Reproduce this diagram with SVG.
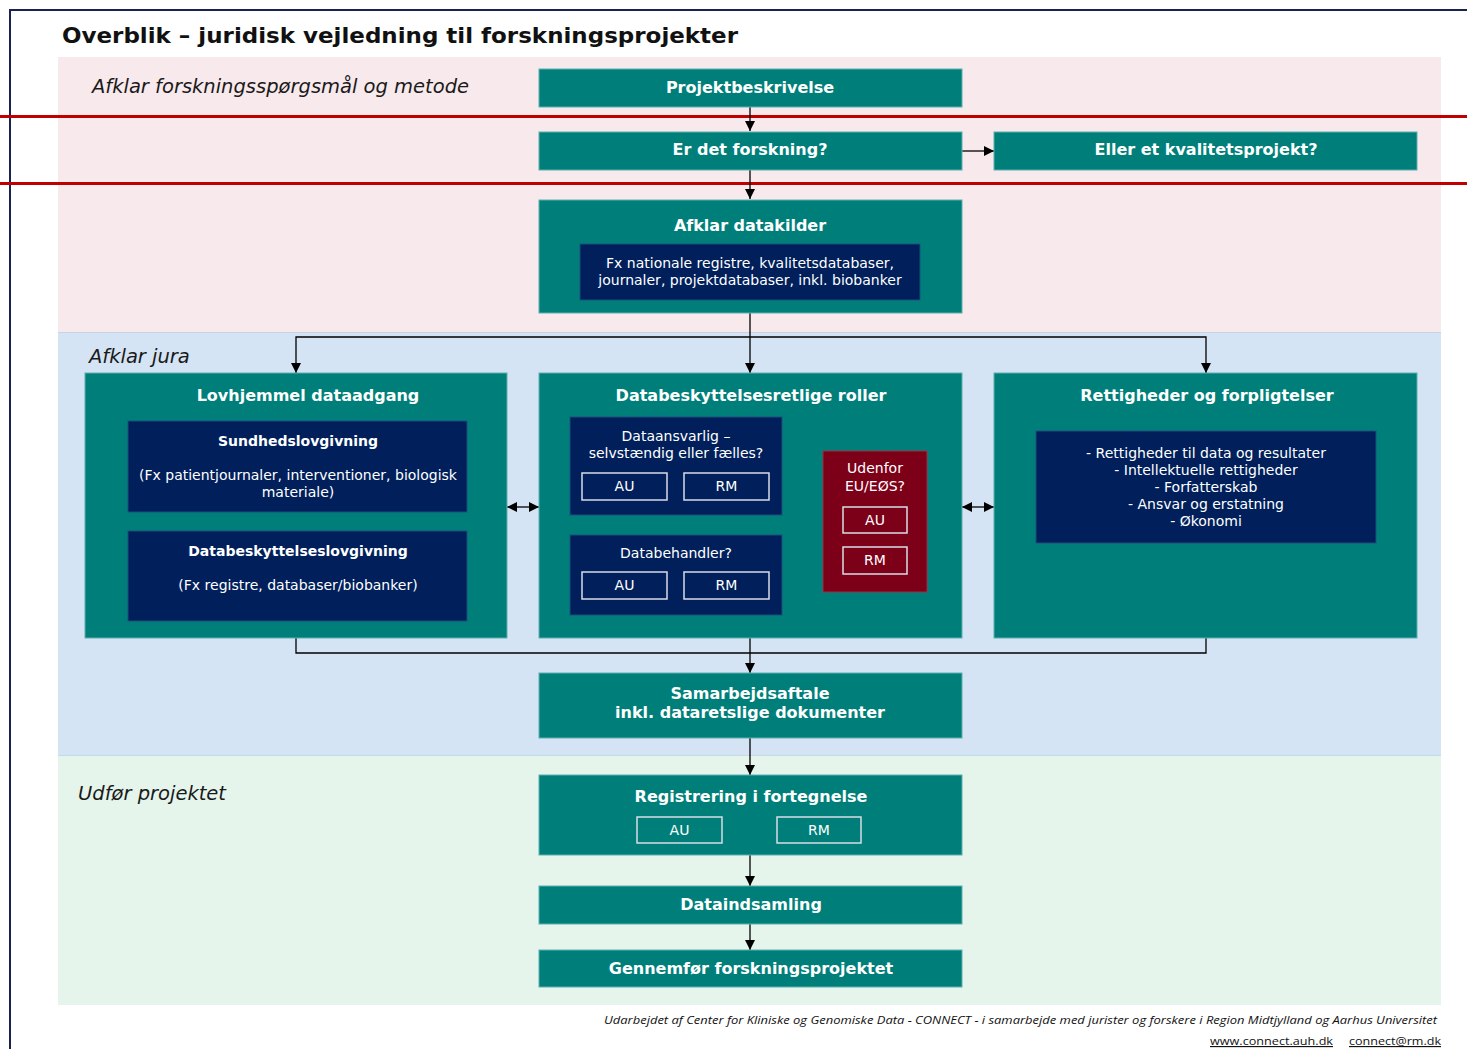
<svg xmlns="http://www.w3.org/2000/svg" width="1467" height="1049" viewBox="0 0 1467 1049">
<defs>
<marker id="arr" viewBox="0 0 10 10" refX="10" refY="5" markerWidth="10" markerHeight="10" markerUnits="userSpaceOnUse" orient="auto-start-reverse">
<path d="M0,0 L10,5 L0,10 z" fill="#000"/>
</marker>
<style>
.teal{fill:#007f7a;stroke:#5fb0ad;stroke-width:1}
.navy{fill:#001f5b;stroke:#1d4f7a;stroke-width:1}
.red{fill:#7d0019;stroke:#9a3040;stroke-width:1}
.chip{fill:none;stroke:#d8dde6;stroke-width:1.5}
.h{font-family:"DejaVu Sans",Verdana,sans-serif;font-weight:bold;font-size:16px;fill:#fff;text-anchor:middle}
.t{font-family:"DejaVu Sans",Verdana,sans-serif;font-size:14px;fill:#fff;text-anchor:middle}
.tb{font-family:"DejaVu Sans",Verdana,sans-serif;font-size:14px;font-weight:bold;fill:#fff;text-anchor:middle}
.sec{font-family:"DejaVu Sans",Verdana,sans-serif;font-style:italic;font-size:19.5px;fill:#1a1a1a}
.c{fill:none;stroke:#000;stroke-width:1.3}
.foot{font-family:"Open Sans","Liberation Sans",sans-serif;font-style:italic;font-size:11.5px;fill:#111}
.link{font-family:"Open Sans","Liberation Sans",sans-serif;font-size:11.5px;fill:#111;text-decoration:underline}
</style>
</defs>
<rect x="0" y="0" width="1467" height="1049" fill="#fff"/>
<!-- frame -->
<path d="M10,1049 L10,10 L1467,10" fill="none" stroke="#1a2350" stroke-width="2"/>
<!-- bands -->
<rect x="58" y="57" width="1383" height="275" fill="#f7e9ec"/>
<rect x="58" y="332" width="1383" height="423" fill="#d4e4f4"/>
<rect x="58" y="755" width="1383" height="250" fill="#e5f5ec"/>
<line x1="58" y1="332.5" x2="1441" y2="332.5" stroke="#c8d4e6" stroke-width="1"/>
<line x1="58" y1="755.5" x2="1441" y2="755.5" stroke="#c4dbe8" stroke-width="1"/>
<!-- red lines -->
<line x1="0" y1="116.5" x2="1467" y2="116.5" stroke="#c00000" stroke-width="3"/>
<line x1="0" y1="183.5" x2="1467" y2="183.5" stroke="#c00000" stroke-width="3"/>
<!-- title -->
<text x="62" y="43" font-family="DejaVu Sans,Verdana,sans-serif" font-weight="bold" font-size="22px" fill="#111" textLength="676" lengthAdjust="spacingAndGlyphs">Overblik – juridisk vejledning til forskningsprojekter</text>
<text class="sec" x="92" y="93">Afklar forskningsspørgsmål og metode</text>
<text class="sec" x="89" y="363">Afklar jura</text>
<text class="sec" x="78" y="800">Udfør projektet</text>

<g id="connectors">
<line class="c" x1="750" y1="107" x2="750" y2="131" marker-end="url(#arr)"/>
<line class="c" x1="962" y1="151" x2="994" y2="151" marker-end="url(#arr)"/>
<line class="c" x1="750" y1="170" x2="750" y2="199" marker-end="url(#arr)"/>
<line class="c" x1="750" y1="313" x2="750" y2="373" marker-end="url(#arr)"/>
<path class="c" d="M296,373 L296,337 L1206,337 L1206,373" marker-start="url(#arr)" marker-end="url(#arr)"/>
<line class="c" x1="507" y1="507" x2="539" y2="507" marker-start="url(#arr)" marker-end="url(#arr)"/>
<line class="c" x1="962" y1="507" x2="994" y2="507" marker-start="url(#arr)" marker-end="url(#arr)"/>
<path class="c" d="M782,466 L800,466 L800,576 L782,576"/>
<line class="c" x1="800" y1="521" x2="823" y2="521" marker-end="url(#arr)"/>
<path class="c" d="M296,638 L296,653 L1206,653 L1206,638"/>
<line class="c" x1="750" y1="638" x2="750" y2="673" marker-end="url(#arr)"/>
<line class="c" x1="750" y1="738" x2="750" y2="775" marker-end="url(#arr)"/>
<line class="c" x1="750" y1="855" x2="750" y2="886" marker-end="url(#arr)"/>
<line class="c" x1="750" y1="924" x2="750" y2="950" marker-end="url(#arr)"/>
</g>

<g id="projektbeskrivelse">
<rect class="teal" x="539" y="69" width="423" height="38"/>
<text class="h" x="750" y="93">Projektbeskrivelse</text>
</g>
<g id="forskning">
<rect class="teal" x="539" y="132" width="423" height="38"/>
<text class="h" x="750" y="155">Er det forskning?</text>
</g>
<g id="kvalitet">
<rect class="teal" x="994" y="132" width="423" height="38"/>
<text class="h" x="1206" y="155">Eller et kvalitetsprojekt?</text>
</g>
<g id="datakilder">
<rect class="teal" x="539" y="200" width="423" height="113"/>
<text class="h" x="750" y="231">Afklar datakilder</text>
<rect class="navy" x="580" y="244" width="340" height="56"/>
<text class="t" x="750" y="268">Fx nationale registre, kvalitetsdatabaser,</text>
<text class="t" x="750" y="285">journaler, projektdatabaser, inkl. biobanker</text>
</g>

<g id="lovhjemmel">
<rect class="teal" x="85" y="373" width="422" height="265"/>
<text class="h" x="308" y="401">Lovhjemmel dataadgang</text>
<rect class="navy" x="128" y="421" width="339" height="91"/>
<text class="tb" x="298" y="446">Sundhedslovgivning</text>
<text class="t" x="298" y="480">(Fx patientjournaler, interventioner, biologisk</text>
<text class="t" x="298" y="497">materiale)</text>
<rect class="navy" x="128" y="531" width="339" height="90"/>
<text class="tb" x="298" y="556">Databeskyttelseslovgivning</text>
<text class="t" x="298" y="590">(Fx registre, databaser/biobanker)</text>
</g>

<g id="roller">
<rect class="teal" x="539" y="373" width="423" height="265"/>
<text class="h" x="751" y="401">Databeskyttelsesretlige roller</text>
<rect class="navy" x="570" y="417" width="212" height="98"/>
<text class="t" x="676" y="441">Dataansvarlig –</text>
<text class="t" x="676" y="458">selvstændig eller  fælles?</text>
<rect class="chip" x="582" y="473" width="85" height="27"/>
<text class="t" x="624.5" y="491">AU</text>
<rect class="chip" x="684" y="473" width="85" height="27"/>
<text class="t" x="726.5" y="491">RM</text>
<rect class="navy" x="570" y="535" width="212" height="80"/>
<text class="t" x="676" y="558">Databehandler?</text>
<rect class="chip" x="582" y="572" width="85" height="27"/>
<text class="t" x="624.5" y="590">AU</text>
<rect class="chip" x="684" y="572" width="85" height="27"/>
<text class="t" x="726.5" y="590">RM</text>
</g>
<g id="udenfor">
<rect class="red" x="823" y="451" width="104" height="141"/>
<text class="t" x="875" y="473">Udenfor</text>
<text class="t" x="875" y="491">EU/EØS?</text>
<rect class="chip" x="843" y="507" width="64" height="26"/>
<text class="t" x="875" y="525">AU</text>
<rect class="chip" x="843" y="547" width="64" height="27"/>
<text class="t" x="875" y="565">RM</text>
</g>

<g id="rettigheder">
<rect class="teal" x="994" y="373" width="423" height="265"/>
<text class="h" x="1207" y="401">Rettigheder og forpligtelser</text>
<rect class="navy" x="1036" y="431" width="340" height="112"/>
<text class="t" x="1206" y="458">- Rettigheder til data og resultater</text>
<text class="t" x="1206" y="475">- Intellektuelle rettigheder</text>
<text class="t" x="1206" y="492">- Forfatterskab</text>
<text class="t" x="1206" y="509">- Ansvar og erstatning</text>
<text class="t" x="1206" y="526">- Økonomi</text>
</g>

<g id="samarbejdsaftale">
<rect class="teal" x="539" y="673" width="423" height="65"/>
<text class="h" x="750" y="699">Samarbejdsaftale</text>
<text class="h" x="750" y="718">inkl. dataretslige dokumenter</text>
</g>
<g id="registrering">
<rect class="teal" x="539" y="775" width="423" height="80"/>
<text class="h" x="751" y="802">Registrering i fortegnelse</text>
<rect class="chip" x="637" y="817" width="85" height="26"/>
<text class="t" x="679.5" y="835">AU</text>
<rect class="chip" x="777" y="817" width="84" height="26"/>
<text class="t" x="819" y="835">RM</text>
</g>
<g id="dataindsamling">
<rect class="teal" x="539" y="886" width="423" height="38"/>
<text class="h" x="751" y="910">Dataindsamling</text>
</g>
<g id="gennemfoer">
<rect class="teal" x="539" y="950" width="423" height="37"/>
<text class="h" x="751" y="974">Gennemfør forskningsprojektet</text>
</g>

<text class="foot" x="1437" y="1024" text-anchor="end" textLength="833" lengthAdjust="spacingAndGlyphs">Udarbejdet af Center for Kliniske og Genomiske Data - CONNECT - i samarbejde med jurister og forskere i Region Midtjylland og Aarhus Universitet</text>
<text class="link" x="1210" y="1045" textLength="123" lengthAdjust="spacingAndGlyphs">www.connect.auh.dk</text>
<text class="link" x="1349" y="1045" textLength="92" lengthAdjust="spacingAndGlyphs">connect@rm.dk</text>
</svg>
